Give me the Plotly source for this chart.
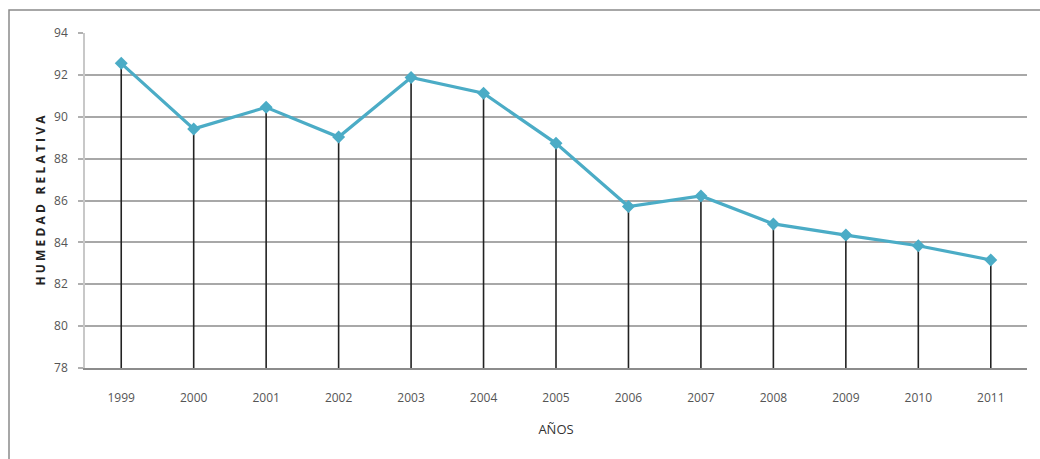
import plotly.graph_objects as go

years = ["1999", "2000", "2001", "2002", "2003", "2004", "2005",
         "2006", "2007", "2008", "2009", "2010", "2011"]
humidity = [92.55, 89.42, 90.45, 89.03, 91.88, 91.12, 88.73,
            85.71, 86.22, 84.88, 84.35, 83.84, 83.16]
y_ticks = [78, 80, 82, 84, 86, 88, 90, 92, 94]
y_min = 78
y_title = "HUMEDAD RELATIVA"
x_title = "AÑOS"

# vertical drop lines from axis floor to each value
drop_x, drop_y = [], []
for yr, v in zip(years, humidity):
    drop_x += [yr, yr, None]
    drop_y += [y_min, v, None]

spaced_y_title = "\u2009\u200a".join(y_title)

fig = go.Figure()
fig.add_trace(go.Scatter(x=drop_x, y=drop_y, mode="lines",
                         line=dict(color="#222222", width=1.6),
                         hoverinfo="skip", showlegend=False))
fig.add_trace(go.Scatter(x=years, y=humidity, mode="lines+markers",
                         line=dict(color="#4BACC6", width=3.2),
                         marker=dict(symbol="diamond", size=10, color="#4BACC6"),
                         showlegend=False))

fig.update_layout(
    width=1040, height=459,
    margin=dict(l=85, r=13, t=33, b=91),
    paper_bgcolor="white", plot_bgcolor="white",
    font=dict(family="Open Sans, Lato, sans-serif", color="#555555"),
    xaxis=dict(
        type="category", range=[-0.5, 12.5],
        showgrid=False, showline=True, linecolor="#8c8c8c", linewidth=1.5,
        ticks="", tickfont=dict(size=12, color="#555555"),
        ticklabelstandoff=18,
        title=dict(text=x_title, font=dict(size=13, color="#333333"), standoff=20),
        fixedrange=True,
    ),
    yaxis=dict(
        range=[78, 94], tickvals=y_ticks,
        showgrid=True, gridcolor="#a8a8a8", gridwidth=1.5,
        showline=True, linecolor="#c8c8c8", linewidth=1.5,
        ticks="outside", ticklen=5, tickcolor="#b0b0b0", tickwidth=1.5,
        tickfont=dict(size=12, color="#555555"),
        ticklabelstandoff=8,
        zeroline=False,
        title=dict(text="<b>" + spaced_y_title + "</b>",
                   font=dict(size=12, color="#222222"), standoff=6),
        fixedrange=True,
    ),
    shapes=[dict(type="rect", xref="paper", yref="paper",
                 x0=(9 - 85) / 942, x1=(1045 - 85) / 942,
                 y0=(368 - 470) / 335, y1=(368 - 10) / 335,
                 line=dict(color="#8a8a8a", width=1.5), fillcolor="rgba(0,0,0,0)",
                 layer="below")],
)

fig.write_html("out.html")
